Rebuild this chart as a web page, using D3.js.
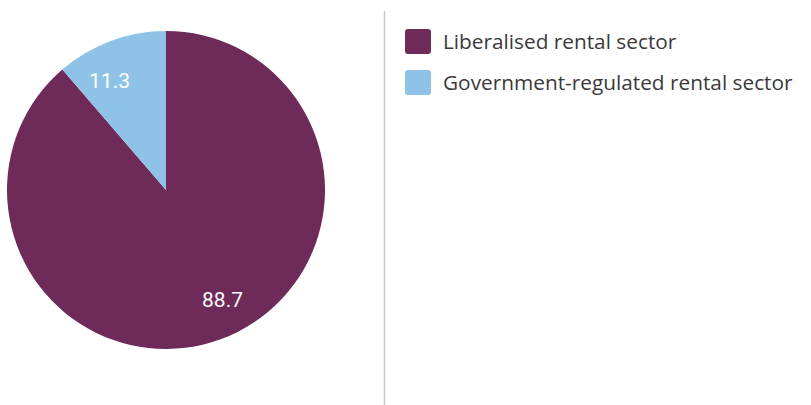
<!DOCTYPE html>
<html>
<head>
<meta charset="utf-8">
<script src="https://cdn.jsdelivr.net/npm/d3@7"></script>
<style>
  html, body { margin: 0; padding: 0; background: #fff; }
  svg { display: block; }
</style>
</head>
<body>
<svg id="chart" width="811" height="405"></svg>
<script>
// Rental housing stock by sector (%)
const sectors = ["Liberalised rental sector", "Government-regulated rental sector"];
const shares = [88.7, 11.3];
const labels = ["88.7", "11.3"];
const colors = ["#6e2b59", "#8ec3e7"];

const svg = d3.select("#chart");
const cx = 166, cy = 190, radius = 159;
const labelRadius = 123;
const labelTurn = -7 * Math.PI / 180; // nudge value labels slightly anticlockwise

const pie = d3.pie().sort(null).value(d => d.value);
const data = pie(sectors.map((s, i) => ({ name: s, value: shares[i], label: labels[i], color: colors[i] })));

const arc = d3.arc().innerRadius(0).outerRadius(radius);

const g = svg.append("g").attr("transform", `translate(${cx},${cy})`);

g.selectAll("path")
  .data(data)
  .join("path")
  .attr("d", arc)
  .attr("fill", d => d.data.color);

g.selectAll("text")
  .data(data)
  .join("text")
  .attr("transform", d => {
    const a = (d.startAngle + d.endAngle) / 2 + labelTurn;
    return `translate(${labelRadius * Math.sin(a)},${-labelRadius * Math.cos(a)})`;
  })
  .attr("text-anchor", "middle")
  .attr("dy", "0.36em")
  .attr("fill", "#ffffff")
  .attr("font-family", "Roboto, sans-serif")
  .attr("font-size", 21)
  .text(d => d.data.label);

// Divider between pie and legend
svg.append("line")
  .attr("x1", 384.5).attr("x2", 384.5)
  .attr("y1", 11).attr("y2", 405)
  .attr("stroke", "#c8c8c8")
  .attr("stroke-width", 1.5);

// Legend
const legend = svg.append("g").attr("transform", "translate(405,29)");
const item = legend.selectAll("g")
  .data(data)
  .join("g")
  .attr("transform", (d, i) => `translate(0,${i * 41})`);

item.append("rect")
  .attr("width", 26).attr("height", 25)
  .attr("rx", 3).attr("ry", 3)
  .attr("fill", d => d.data.color);

item.append("text")
  .attr("x", 38)
  .attr("y", 20)
  .attr("fill", "#3a3a3a")
  .attr("font-family", "'Open Sans', sans-serif")
  .attr("font-size", 20.8)
  .text(d => d.data.name);
</script>
</body>
</html>
